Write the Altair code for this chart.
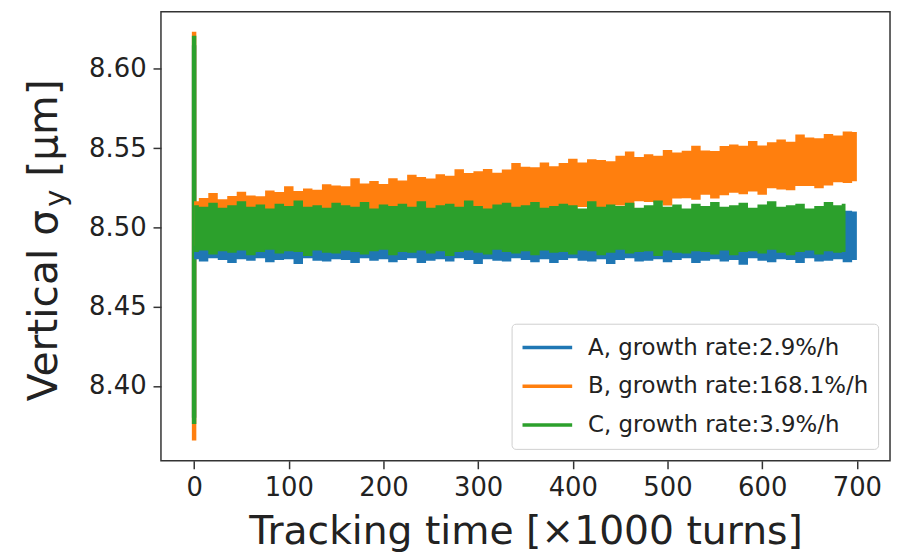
import altair as alt
import pandas as pd

# ---------------- data ----------------
LABELS = ["A, growth rate:2.9%/h", "B, growth rate:168.1%/h", "C, growth rate:3.9%/h"]
COLORS = ["#1f77b4", "#ff7f0e", "#2ca02c"]

T_AB = list(range(0, 701, 10))          # sample times (x1000 turns) for A and B
T_C = list(range(0, 681, 10)) + [688]   # C stops a little earlier

# envelope of the noisy series A (upper / lower edge)
A_HI = [8.5100, 8.5090, 8.5110, 8.5095, 8.5085, 8.5105, 8.5095, 8.5115, 8.5090, 8.5100,
        8.5085, 8.5110, 8.5095, 8.5100, 8.5115, 8.5090, 8.5105, 8.5085, 8.5100, 8.5110,
        8.5095, 8.5090, 8.5115, 8.5100, 8.5085, 8.5105, 8.5095, 8.5110, 8.5090, 8.5100,
        8.5115, 8.5085, 8.5105, 8.5095, 8.5100, 8.5110, 8.5090, 8.5095, 8.5115, 8.5085,
        8.5100, 8.5105, 8.5090, 8.5110, 8.5095, 8.5085, 8.5100, 8.5115, 8.5090, 8.5105,
        8.5095, 8.5110, 8.5085, 8.5100, 8.5095, 8.5115, 8.5090, 8.5105, 8.5100, 8.5085,
        8.5110, 8.5095, 8.5100, 8.5115, 8.5090, 8.5105, 8.5095, 8.5110, 8.5100, 8.5105,
        8.5100]
A_LO = [8.4800, 8.4785, 8.4805, 8.4795, 8.4775, 8.4800, 8.4790, 8.4805, 8.4780, 8.4795,
        8.4800, 8.4770, 8.4805, 8.4790, 8.4785, 8.4800, 8.4795, 8.4775, 8.4805, 8.4790,
        8.4800, 8.4780, 8.4795, 8.4805, 8.4775, 8.4790, 8.4800, 8.4785, 8.4805, 8.4795,
        8.4770, 8.4800, 8.4790, 8.4785, 8.4805, 8.4795, 8.4780, 8.4800, 8.4775, 8.4795,
        8.4805, 8.4790, 8.4785, 8.4800, 8.4770, 8.4795, 8.4805, 8.4785, 8.4790, 8.4800,
        8.4780, 8.4795, 8.4805, 8.4775, 8.4790, 8.4800, 8.4785, 8.4795, 8.4765, 8.4805,
        8.4790, 8.4780, 8.4800, 8.4795, 8.4775, 8.4805, 8.4785, 8.4790, 8.4800, 8.4780,
        8.4795]

# envelope of series B (growing)
B_HI = [8.5165, 8.5186, 8.5217, 8.5178, 8.5199, 8.5225, 8.5201, 8.5197, 8.5233, 8.5224,
        8.5260, 8.5230, 8.5246, 8.5237, 8.5273, 8.5264, 8.5260, 8.5311, 8.5277, 8.5293,
        8.5274, 8.5310, 8.5296, 8.5332, 8.5318, 8.5309, 8.5335, 8.5326, 8.5367, 8.5343,
        8.5354, 8.5369, 8.5345, 8.5366, 8.5407, 8.5383, 8.5379, 8.5410, 8.5386, 8.5407,
        8.5433, 8.5409, 8.5430, 8.5426, 8.5417, 8.5453, 8.5479, 8.5445, 8.5461, 8.5452,
        8.5488, 8.5473, 8.5484, 8.5515, 8.5486, 8.5482, 8.5513, 8.5524, 8.5515, 8.5546,
        8.5517, 8.5538, 8.5554, 8.5540, 8.5586, 8.5567, 8.5563, 8.5589, 8.5580, 8.5606,
        8.5602]
B_LO = [8.4885, 8.4876, 8.4902, 8.4873, 8.4899, 8.4915, 8.4901, 8.4922, 8.4898, 8.4939,
        8.4935, 8.4925, 8.4961, 8.4952, 8.4928, 8.4974, 8.4965, 8.4981, 8.4972, 8.4968,
        8.5004, 8.5000, 8.4991, 8.5027, 8.5013, 8.4999, 8.5040, 8.5036, 8.5032, 8.5053,
        8.5034, 8.5059, 8.5075, 8.5056, 8.5077, 8.5053, 8.5104, 8.5090, 8.5106, 8.5097,
        8.5093, 8.5129, 8.5125, 8.5116, 8.5142, 8.5138, 8.5124, 8.5165, 8.5161, 8.5157,
        8.5138, 8.5183, 8.5184, 8.5175, 8.5206, 8.5182, 8.5203, 8.5219, 8.5210, 8.5226,
        8.5207, 8.5248, 8.5239, 8.5235, 8.5261, 8.5262, 8.5248, 8.5264, 8.5285, 8.5281,
        8.5292]

# envelope of series C
C_HI = [8.5140, 8.5130, 8.5155, 8.5125, 8.5140, 8.5165, 8.5130, 8.5145, 8.5120, 8.5150,
        8.5135, 8.5170, 8.5130, 8.5140, 8.5125, 8.5155, 8.5140, 8.5130, 8.5160, 8.5120,
        8.5145, 8.5135, 8.5150, 8.5130, 8.5165, 8.5125, 8.5140, 8.5150, 8.5130, 8.5170,
        8.5135, 8.5120, 8.5145, 8.5155, 8.5130, 8.5140, 8.5160, 8.5125, 8.5135, 8.5150,
        8.5140, 8.5120, 8.5165, 8.5130, 8.5145, 8.5135, 8.5155, 8.5125, 8.5140, 8.5170,
        8.5130, 8.5145, 8.5120, 8.5150, 8.5135, 8.5160, 8.5130, 8.5140, 8.5155, 8.5125,
        8.5145, 8.5165, 8.5130, 8.5140, 8.5150, 8.5120, 8.5135, 8.5160, 8.5140, 8.5150]
C_LO = [8.4845, 8.4855, 8.4830, 8.4850, 8.4840, 8.4855, 8.4825, 8.4845, 8.4860, 8.4835,
        8.4850, 8.4845, 8.4820, 8.4855, 8.4840, 8.4835, 8.4855, 8.4845, 8.4830, 8.4850,
        8.4860, 8.4825, 8.4845, 8.4840, 8.4855, 8.4835, 8.4850, 8.4820, 8.4845, 8.4855,
        8.4840, 8.4830, 8.4860, 8.4845, 8.4835, 8.4850, 8.4825, 8.4855, 8.4840, 8.4845,
        8.4830, 8.4855, 8.4850, 8.4825, 8.4840, 8.4860, 8.4835, 8.4845, 8.4850, 8.4820,
        8.4855, 8.4840, 8.4835, 8.4850, 8.4845, 8.4830, 8.4855, 8.4825, 8.4845, 8.4850,
        8.4835, 8.4860, 8.4840, 8.4825, 8.4845, 8.4855, 8.4830, 8.4850, 8.4840, 8.4845]

# initial transient at t = 0 (min, max)
SPIKE_T = [0, 0]
SPIKE_A = [8.3800, 8.6150]
SPIKE_B = [8.3656, 8.6234]
SPIKE_C = [8.3760, 8.6209]

X_TICKS = [0, 100, 200, 300, 400, 500, 600, 700]
Y_TICKS = [8.40, 8.45, 8.50, 8.55, 8.60]

# ---------------- tables ----------------
def band(t, lo, hi, name):
    return pd.DataFrame({"t": t, "lo": lo, "hi": hi, "series": name})

dfA = band(T_AB, A_LO, A_HI, LABELS[0])
dfB = band(T_AB, B_LO, B_HI, LABELS[1])
dfC = band(T_C, C_LO, C_HI, LABELS[2])
df_spike = pd.concat([
    pd.DataFrame({"t": SPIKE_T, "lo": SPIKE_A, "series": LABELS[0]}),
    pd.DataFrame({"t": SPIKE_T, "lo": SPIKE_B, "series": LABELS[1]}),
    pd.DataFrame({"t": SPIKE_T, "lo": SPIKE_C, "series": LABELS[2]}),
])

FONT = "DejaVu Sans"
cscale = alt.Scale(domain=LABELS, range=COLORS)
legend = alt.Legend(
    title=None, orient="bottom-right", offset=12,
    symbolType="stroke", symbolSize=2500, symbolStrokeWidth=3.5,
    clipHeight=30, rowPadding=9, padding=9, labelOffset=14,
    labelFontSize=23, labelFont=FONT, labelColor="#222222", labelLimit=0,
    fillColor="white", strokeColor="#d0d0d0", cornerRadius=4,
)

xenc = alt.X("t:Q",
             scale=alt.Scale(domain=[-35, 735], nice=False, zero=False),
             axis=alt.Axis(values=X_TICKS, title="Tracking time [×1000 turns]",
                           labelPadding=6, titlePadding=12))
yenc = alt.Y("lo:Q",
             scale=alt.Scale(domain=[8.3528, 8.6360], nice=False, zero=False),
             axis=alt.Axis(values=Y_TICKS, format=".2f", title=None, labelPadding=7))

spikes = alt.Chart(df_spike).mark_line(strokeWidth=4.5).encode(
    x=xenc, y=yenc, color=alt.Color("series:N", scale=cscale, legend=legend))

def area(df):
    return alt.Chart(df).mark_area(interpolate="step", opacity=1).encode(
        x=xenc, y=yenc, y2="hi:Q",
        color=alt.Color("series:N", scale=cscale, legend=legend))

one = pd.DataFrame({"k": [0]})
t1 = alt.Chart(one).mark_text(angle=270, align="left", baseline="alphabetic",
                              font=FONT, fontSize=41, color="#222222").encode(
    x=alt.value(-105), y=alt.value(392), text=alt.value("Vertical σ"))
t2 = alt.Chart(one).mark_text(angle=270, align="left", baseline="alphabetic",
                              font=FONT, fontSize=29, color="#222222").encode(
    x=alt.value(-97), y=alt.value(196.3), text=alt.value("y"))
t3 = alt.Chart(one).mark_text(angle=270, align="left", baseline="alphabetic",
                              font=FONT, fontSize=41, color="#222222").encode(
    x=alt.value(-105), y=alt.value(166), text=alt.value("[μm]"))

chart = alt.layer(spikes, area(dfA), area(dfB), area(dfC), t1, t2, t3).properties(
    width=734, height=452,
    padding={"left": 154, "top": 2, "right": 2, "bottom": 98},
    autosize=alt.AutoSizeParams(type="none"),
).configure(font=FONT).configure_view(
    stroke="#333333", strokeWidth=1.5
).configure_axis(
    domain=False, grid=False, tickColor="#333333", tickWidth=1.5, tickSize=8,
    labelFont=FONT, labelFontSize=26, labelColor="#222222",
    titleFont=FONT, titleFontSize=39.5, titleFontWeight="normal", titleColor="#222222",
)

chart.save("out.html", embed_options={"renderer": "svg", "actions": False})
